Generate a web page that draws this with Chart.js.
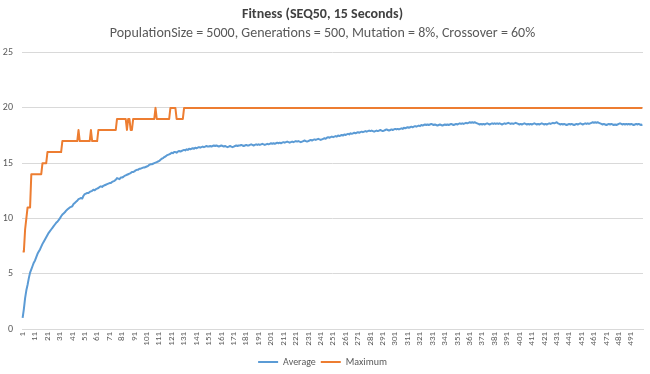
<!DOCTYPE html>
<html>
<head>
<meta charset="utf-8">
<title>Fitness (SEQ50, 15 Seconds)</title>
<script src="https://cdn.jsdelivr.net/npm/chart.js@4.4.1/dist/chart.umd.min.js"></script>
<style>
  html, body { margin: 0; padding: 0; background: #ffffff; }
  #wrap { width: 650px; height: 374px; position: relative; }
</style>
</head>
<body>
<div id="wrap"><canvas id="fitnessChart"></canvas></div>
<script>
// Generation numbers 1..500 on the category axis
const generations = [];
for (let g = 1; g <= 500; g++) generations.push(String(g));

// Average fitness of the population, one value per generation
const averageFitness = [
  1.0, 1.8, 2.8, 3.5, 4.0, 4.6, 5.1, 5.4, 5.7, 6.0,
  6.2, 6.5, 6.8, 7.0, 7.2, 7.45, 7.7, 7.9, 8.1, 8.3,
  8.5, 8.7, 8.85, 9.0, 9.15, 9.3, 9.45, 9.6, 9.7, 9.85,
  10.0, 10.2, 10.35, 10.45, 10.55, 10.7, 10.8, 10.9, 11.0, 11.05,
  11.1, 11.3, 11.4, 11.5, 11.6, 11.75, 11.8, 11.85, 11.8, 12.05,
  12.2, 12.25, 12.3, 12.3, 12.4, 12.45, 12.5, 12.6, 12.55, 12.65,
  12.7, 12.75, 12.85, 12.9, 12.85, 12.95, 13.0, 13.05, 13.1, 13.15,
  13.2, 13.2, 13.3, 13.35, 13.4, 13.5, 13.65, 13.6, 13.55, 13.7,
  13.7, 13.75, 13.85, 13.9, 13.95, 14.0, 14.05, 14.1, 14.2, 14.2,
  14.25, 14.35, 14.4, 14.4, 14.5, 14.5, 14.55, 14.6, 14.6, 14.65,
  14.7, 14.75, 14.85, 14.9, 14.9, 14.95, 15.0, 15.05, 15.1, 15.15,
  15.2, 15.3, 15.4, 15.45, 15.55, 15.6, 15.7, 15.75, 15.8, 15.85,
  15.95, 15.9, 16.0, 16.0, 15.95, 16.05, 16.1, 16.05, 16.1, 16.15,
  16.2, 16.15, 16.25, 16.2, 16.3, 16.25, 16.3, 16.35, 16.3, 16.4,
  16.35, 16.4, 16.45, 16.4, 16.45, 16.5, 16.45, 16.5, 16.55, 16.5,
  16.5, 16.55, 16.5, 16.55, 16.6, 16.55, 16.6, 16.55, 16.5, 16.55,
  16.6, 16.55, 16.5, 16.55, 16.5, 16.45, 16.5, 16.55, 16.5, 16.45,
  16.5, 16.55, 16.6, 16.55, 16.6, 16.6, 16.65, 16.6, 16.55, 16.6,
  16.65, 16.6, 16.6, 16.65, 16.7, 16.65, 16.6, 16.65, 16.7, 16.65,
  16.7, 16.65, 16.7, 16.75, 16.7, 16.65, 16.7, 16.75, 16.7, 16.75,
  16.8, 16.75, 16.8, 16.75, 16.8, 16.85, 16.8, 16.85, 16.8, 16.85,
  16.9, 16.85, 16.9, 16.95, 16.9, 16.85, 16.9, 16.95, 16.9, 16.95,
  17.0, 16.95, 17.0, 16.95, 16.9, 16.95, 17.0, 17.05, 17.0, 16.95,
  17.0, 17.05, 17.1, 17.05, 17.1, 17.15, 17.1, 17.15, 17.2, 17.15,
  17.1, 17.15, 17.2, 17.25, 17.2, 17.3, 17.35, 17.3, 17.35, 17.4,
  17.35, 17.4, 17.45, 17.4, 17.5, 17.45, 17.5, 17.55, 17.5, 17.6,
  17.55, 17.6, 17.65, 17.6, 17.7, 17.65, 17.7, 17.75, 17.7, 17.75,
  17.8, 17.75, 17.8, 17.85, 17.8, 17.85, 17.9, 17.85, 17.9, 17.95,
  17.9, 17.95, 17.9, 17.85, 17.9, 17.95, 17.9, 17.95, 18.0, 17.95,
  17.9, 17.95, 18.0, 18.05, 18.0, 17.95, 18.0, 18.05, 18.0, 18.05,
  18.1, 18.05, 18.1, 18.05, 18.1, 18.15, 18.1, 18.2, 18.15, 18.2,
  18.25, 18.2, 18.25, 18.3, 18.25, 18.3, 18.35, 18.3, 18.35, 18.4,
  18.35, 18.45, 18.4, 18.45, 18.5, 18.45, 18.5, 18.45, 18.5, 18.55,
  18.5, 18.45, 18.5, 18.45, 18.4, 18.45, 18.5, 18.45, 18.4, 18.45,
  18.5, 18.45, 18.5, 18.45, 18.5, 18.55, 18.5, 18.45, 18.5, 18.55,
  18.5, 18.55, 18.6, 18.55, 18.6, 18.55, 18.6, 18.65, 18.6, 18.65,
  18.7, 18.65, 18.7, 18.65, 18.7, 18.65, 18.6, 18.55, 18.5, 18.55,
  18.5, 18.55, 18.5, 18.55, 18.6, 18.55, 18.5, 18.55, 18.6, 18.55,
  18.6, 18.55, 18.6, 18.55, 18.6, 18.55, 18.5, 18.55, 18.6, 18.55,
  18.6, 18.65, 18.6, 18.55, 18.6, 18.55, 18.6, 18.65, 18.6, 18.55,
  18.5, 18.55, 18.5, 18.55, 18.6, 18.55, 18.5, 18.55, 18.5, 18.55,
  18.5, 18.55, 18.6, 18.55, 18.5, 18.55, 18.5, 18.55, 18.6, 18.55,
  18.5, 18.55, 18.5, 18.55, 18.6, 18.55, 18.6, 18.65, 18.6, 18.65,
  18.7, 18.6, 18.55, 18.5, 18.55, 18.5, 18.55, 18.5, 18.45, 18.5,
  18.55, 18.5, 18.55, 18.5, 18.45, 18.5, 18.55, 18.5, 18.55, 18.6,
  18.55, 18.5, 18.55, 18.6, 18.55, 18.6, 18.55, 18.6, 18.65, 18.7,
  18.65, 18.7, 18.65, 18.7, 18.65, 18.6, 18.55, 18.5, 18.55, 18.5,
  18.45, 18.5, 18.55, 18.5, 18.55, 18.5, 18.45, 18.5, 18.45, 18.5,
  18.55, 18.6, 18.55, 18.5, 18.55, 18.5, 18.55, 18.5, 18.55, 18.5,
  18.55, 18.5, 18.45, 18.5, 18.55, 18.5, 18.55, 18.5, 18.45, 18.5
];

// Best individual's fitness, one value per generation
const maximumFitness = [
  7, 7, 9, 10, 11, 11, 11, 14, 14, 14,
  14, 14, 14, 14, 14, 14, 15, 15, 15, 15,
  16, 16, 16, 16, 16, 16, 16, 16, 16, 16,
  16, 16, 17, 17, 17, 17, 17, 17, 17, 17,
  17, 17, 17, 17, 17, 18, 17, 17, 17, 17,
  17, 17, 17, 17, 17, 18, 17, 17, 17, 17,
  17, 18, 18, 18, 18, 18, 18, 18, 18, 18,
  18, 18, 18, 18, 18, 18, 19, 19, 19, 19,
  19, 19, 19, 19, 18, 19, 19, 18, 18, 19,
  19, 19, 19, 19, 19, 19, 19, 19, 19, 19,
  19, 19, 19, 19, 19, 19, 19, 20, 19, 19,
  19, 19, 19, 19, 19, 19, 19, 19, 19, 20,
  20, 20, 20, 20, 19, 19, 19, 19, 19, 19,
  20, 20, 20, 20, 20, 20, 20, 20, 20, 20,
  20, 20, 20, 20, 20, 20, 20, 20, 20, 20,
  20, 20, 20, 20, 20, 20, 20, 20, 20, 20,
  20, 20, 20, 20, 20, 20, 20, 20, 20, 20,
  20, 20, 20, 20, 20, 20, 20, 20, 20, 20,
  20, 20, 20, 20, 20, 20, 20, 20, 20, 20,
  20, 20, 20, 20, 20, 20, 20, 20, 20, 20,
  20, 20, 20, 20, 20, 20, 20, 20, 20, 20,
  20, 20, 20, 20, 20, 20, 20, 20, 20, 20,
  20, 20, 20, 20, 20, 20, 20, 20, 20, 20,
  20, 20, 20, 20, 20, 20, 20, 20, 20, 20,
  20, 20, 20, 20, 20, 20, 20, 20, 20, 20,
  20, 20, 20, 20, 20, 20, 20, 20, 20, 20,
  20, 20, 20, 20, 20, 20, 20, 20, 20, 20,
  20, 20, 20, 20, 20, 20, 20, 20, 20, 20,
  20, 20, 20, 20, 20, 20, 20, 20, 20, 20,
  20, 20, 20, 20, 20, 20, 20, 20, 20, 20,
  20, 20, 20, 20, 20, 20, 20, 20, 20, 20,
  20, 20, 20, 20, 20, 20, 20, 20, 20, 20,
  20, 20, 20, 20, 20, 20, 20, 20, 20, 20,
  20, 20, 20, 20, 20, 20, 20, 20, 20, 20,
  20, 20, 20, 20, 20, 20, 20, 20, 20, 20,
  20, 20, 20, 20, 20, 20, 20, 20, 20, 20,
  20, 20, 20, 20, 20, 20, 20, 20, 20, 20,
  20, 20, 20, 20, 20, 20, 20, 20, 20, 20,
  20, 20, 20, 20, 20, 20, 20, 20, 20, 20,
  20, 20, 20, 20, 20, 20, 20, 20, 20, 20,
  20, 20, 20, 20, 20, 20, 20, 20, 20, 20,
  20, 20, 20, 20, 20, 20, 20, 20, 20, 20,
  20, 20, 20, 20, 20, 20, 20, 20, 20, 20,
  20, 20, 20, 20, 20, 20, 20, 20, 20, 20,
  20, 20, 20, 20, 20, 20, 20, 20, 20, 20,
  20, 20, 20, 20, 20, 20, 20, 20, 20, 20,
  20, 20, 20, 20, 20, 20, 20, 20, 20, 20,
  20, 20, 20, 20, 20, 20, 20, 20, 20, 20,
  20, 20, 20, 20, 20, 20, 20, 20, 20, 20,
  20, 20, 20, 20, 20, 20, 20, 20, 20, 20
];

// Value axis ticks
const yTicks = [0, 5, 10, 15, 20, 25];

const fontFamily = "Carlito, 'Liberation Sans Narrow', 'Open Sans', sans-serif";

document.addEventListener('DOMContentLoaded', function() {
    const ctx = document.getElementById('fitnessChart');

    new Chart(ctx.getContext('2d'), {
        type: 'line',
        data: {
            labels: generations,
            datasets: [{
                label: 'Average',
                data: averageFitness,
                borderColor: '#5B9BD5',
                backgroundColor: '#5B9BD5',
                borderWidth: 2,
                borderJoinStyle: 'round',
                pointRadius: 0,
                tension: 0
            }, {
                label: 'Maximum',
                data: maximumFitness,
                borderColor: '#ED7D31',
                backgroundColor: '#ED7D31',
                borderWidth: 2,
                borderJoinStyle: 'round',
                pointRadius: 0,
                tension: 0
            }]
        },
        options: {
            responsive: true,
            maintainAspectRatio: false,
            animation: false,
            layout: {
                padding: { left: 2, right: 7, top: 2, bottom: -3 }
            },
            plugins: {
                title: {
                    display: true,
                    text: 'Fitness (SEQ50, 15 Seconds)',
                    color: '#404040',
                    font: { family: fontFamily, size: 14, weight: 'bold' },
                    padding: { top: 4, bottom: 2 }
                },
                subtitle: {
                    display: true,
                    text: 'PopulationSize = 5000, Generations = 500, Mutation = 8%, Crossover = 60%',
                    color: '#595959',
                    font: { family: fontFamily, size: 14 },
                    padding: { top: 0, bottom: 11 }
                },
                legend: {
                    position: 'bottom',
                    labels: {
                        usePointStyle: true,
                        pointStyle: 'line',
                        pointStyleWidth: 20,
                        color: '#595959',
                        font: { family: fontFamily, size: 10 },
                        padding: 5
                    }
                },
                tooltip: { enabled: false }
            },
            scales: {
                x: {
                    offset: true,
                    grid: { display: false, drawTicks: false },
                    border: { display: true, color: '#d9d9d9' },
                    afterFit: function(scale) {
                        scale.height = 23;
                        scale.paddingLeft = 0;
                        scale.paddingRight = 0;
                    },
                    ticks: {
                        autoSkip: false,
                        minRotation: 90,
                        maxRotation: 90,
                        color: '#595959',
                        font: { family: fontFamily, size: 9 },
                        padding: 3,
                        callback: function(value, index) {
                            return index % 10 === 0 ? generations[index] : '';
                        }
                    }
                },
                y: {
                    min: yTicks[0],
                    max: yTicks[yTicks.length - 1],
                    grid: { color: '#d9d9d9', drawTicks: false },
                    border: { display: false },
                    afterFit: function(scale) { scale.width = 20; },
                    ticks: {
                        stepSize: 5,
                        color: '#595959',
                        font: { family: fontFamily, size: 10 },
                        padding: 9
                    }
                }
            }
        }
    });
});
</script>
</body>
</html>
